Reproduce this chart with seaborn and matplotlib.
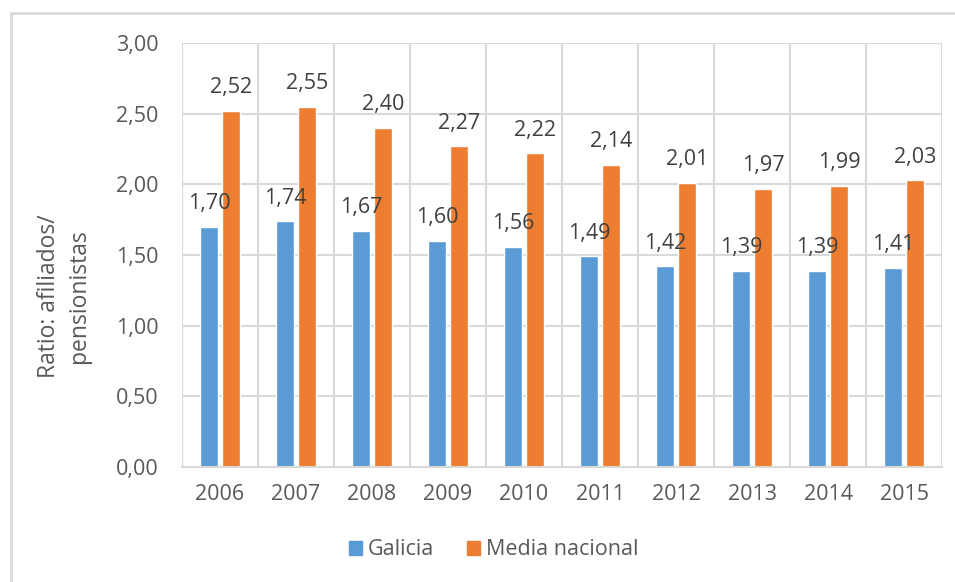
import matplotlib
matplotlib.use('Agg')
import matplotlib.pyplot as plt
import matplotlib.patches as mpatches
import seaborn as sns
import pandas as pd

#######################################################################################################################
# DATA #
#######################################################################################################################

Years = ['2006', '2007', '2008', '2009', '2010', '2011', '2012', '2013', '2014', '2015']
Galicia = [1.70, 1.74, 1.67, 1.60, 1.56, 1.49, 1.42, 1.39, 1.39, 1.41]
Media_Nacional = [2.52, 2.55, 2.40, 2.27, 2.22, 2.14, 2.01, 1.97, 1.99, 2.03]
Series_Names = ['Galicia', 'Media nacional']
Y_Ticks = [0, 0.5, 1.0, 1.5, 2.0, 2.5, 3.0]

#######################################################################################################################
# PLOT #
#######################################################################################################################

Data = pd.DataFrame({
    'Year': Years * 2,
    'Value': Galicia + Media_Nacional,
    'Serie': [Series_Names[0]] * len(Years) + [Series_Names[1]] * len(Years),
})

Text_Color = '#595959'
Grid_Color = '#d9d9d9'
Colors = ['#5b9bd5', '#ed7d31']
Font_Size = 15.5

sns.set_style('white')
plt.rcParams['font.family'] = ['Open Sans', 'DejaVu Sans']

Figure = plt.figure(figsize=(9.55, 5.82), dpi=100)
Axis = Figure.add_axes([0.1906, 0.1976, 0.7958, 0.7285])

sns.barplot(data=Data, x='Year', y='Value', hue='Serie', palette=Colors, width=0.58, gap=0.22,
            ax=Axis, legend=False, saturation=1)

def Comma_Format(Value):
    return f'{Value:.2f}'.replace('.', ',')

for Container in Axis.containers:
    Axis.bar_label(Container, labels=[Comma_Format(v) for v in Container.datavalues],
                   padding=9, fontsize=Font_Size, color='#404040')

Axis.set_ylim(0, 3.0)
Axis.set_xlim(-0.5, len(Years) - 0.5)
Axis.set_yticks(Y_Ticks)
Axis.set_yticklabels([Comma_Format(v) for v in Y_Ticks], fontsize=Font_Size, color=Text_Color)
Axis.set_xticks(range(len(Years)))
Axis.set_xticklabels(Years, fontsize=Font_Size, color=Text_Color)
Axis.set_xticks([i - 0.5 for i in range(len(Years) + 1)], minor=True)
Axis.tick_params(axis='both', which='both', length=0)
Axis.tick_params(axis='y', pad=17)
Axis.tick_params(axis='x', pad=12)

Axis.set_axisbelow(True)
Axis.grid(True, axis='y', which='major', color=Grid_Color, linewidth=1.5)
Axis.grid(True, axis='x', which='minor', color=Grid_Color, linewidth=1.5)
Axis.grid(False, axis='x', which='major')
for Side in ['top', 'right', 'left']:
    Axis.spines[Side].set_visible(False)
Axis.spines['bottom'].set_color(Grid_Color)
Axis.spines['bottom'].set_linewidth(1.5)

Axis.set_xlabel('')
Axis.set_ylabel('')
Figure.text(0.067, 0.491, 'Ratio: afiliados/\npensionistas', rotation=90, ha='center', va='center',
            fontsize=16.5, color=Text_Color, linespacing=1.35)

Handles = [mpatches.Patch(color=c, label=n) for c, n in zip(Colors, Series_Names)]
Figure.legend(handles=Handles, loc='center', bbox_to_anchor=(0.517, 0.055), ncol=2, frameon=False,
              fontsize=Font_Size, labelcolor=Text_Color, handlelength=0.6, handleheight=0.6,
              handletextpad=0.3, columnspacing=1.5)

Border = mpatches.Rectangle((0.011, -0.05), 1.2, 1.028, transform=Figure.transFigure, fill=False,
                            edgecolor=Grid_Color, linewidth=2)
Figure.patches.append(Border)

Figure.savefig('out.png', dpi=100)
